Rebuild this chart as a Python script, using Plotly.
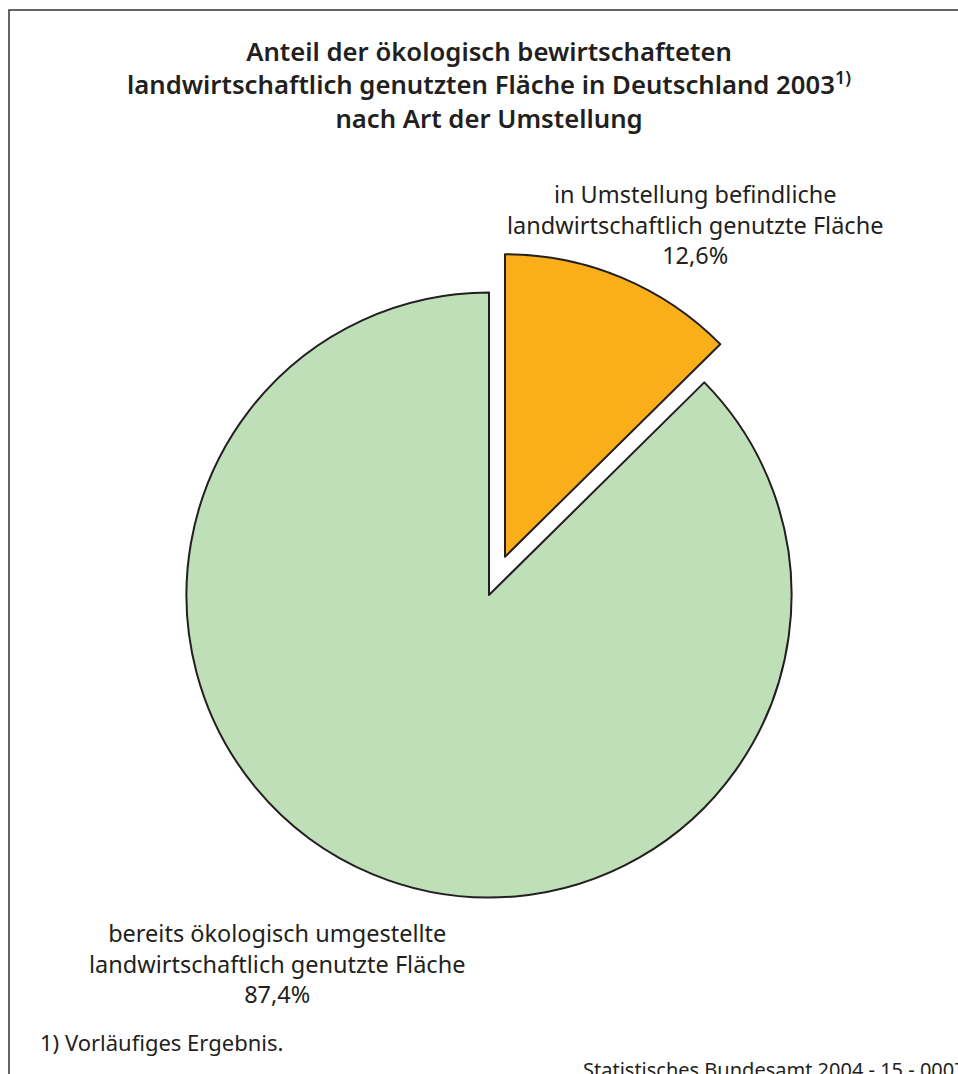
import plotly.graph_objects as go

# --- data ---------------------------------------------------------------
categories = [
    "in Umstellung befindliche landwirtschaftlich genutzte Fläche",
    "bereits ökologisch umgestellte landwirtschaftlich genutzte Fläche",
]
label_lines = [
    ["in Umstellung befindliche", "landwirtschaftlich genutzte Fläche"],
    ["bereits ökologisch umgestellte", "landwirtschaftlich genutzte Fläche"],
]
shares = [12.6, 87.4]
slice_colors = ["#F9AE1A", "#BEDFB8"]
slice_pull = [0.137, 0.0]

title_lines = [
    "Anteil der ökologisch bewirtschafteten",
    "landwirtschaftlich genutzten Fläche in Deutschland 2003<sup>1)</sup>",
    "nach Art der Umstellung",
]
footnote = "1) Vorläufiges Ergebnis."
source = "Statistisches Bundesamt 2004 - 15 - 0007"

# --- page geometry --------------------------------------------------------
W, H = 958, 1074
INK = "#231f20"
FONT = "Noto Sans"


def fx(px):
    return px / W


def fy(py):
    return 1 - py / H


def pct(v):
    return f"{v:.1f}".replace(".", ",") + "%"


# square box around the pie (includes room for the pulled slice)
cx, cy, half = 489, 595, 344
fig = go.Figure(
    go.Pie(
        labels=categories,
        values=shares,
        sort=False,
        direction="clockwise",
        rotation=0,
        pull=slice_pull,
        marker=dict(colors=slice_colors, line=dict(color=INK, width=2)),
        textinfo="none",
        hoverinfo="label+percent",
        showlegend=False,
        domain=dict(x=[fx(cx - half), fx(cx + half)], y=[fy(cy + half), fy(cy - half)]),
    )
)

annotations = []
# title
annotations.append(dict(
    text="<br>".join(title_lines), x=fx(489), y=fy(85), xref="paper", yref="paper",
    xanchor="center", yanchor="middle", showarrow=False, align="center",
    font=dict(family=FONT, size=25.7, color=INK, weight=600),
))
# slice labels
label_pos = [(695, 225), (277, 963)]
for lines, v, (lx, ly) in zip(label_lines, shares, label_pos):
    annotations.append(dict(
        text="<br>".join(lines + [pct(v)]), x=fx(lx), y=fy(ly), xref="paper", yref="paper",
        xanchor="center", yanchor="middle", showarrow=False, align="center",
        font=dict(family=FONT, size=23.5, color=INK),
    ))
# footnote and source
annotations.append(dict(
    text=footnote, x=fx(38), y=fy(1042), xref="paper", yref="paper",
    xanchor="left", yanchor="middle", showarrow=False,
    font=dict(family=FONT, size=22, color=INK),
))
annotations.append(dict(
    text=source, x=fx(581), y=fy(1069), xref="paper", yref="paper",
    xanchor="left", yanchor="middle", showarrow=False,
    font=dict(family=FONT, size=20, color=INK),
))

fig.update_layout(
    width=W, height=H,
    margin=dict(l=0, r=0, t=0, b=0),
    paper_bgcolor="white", plot_bgcolor="white",
    annotations=annotations,
    shapes=[dict(
        type="rect", xref="paper", yref="paper",
        x0=fx(9), y0=fy(10), x1=fx(W + 40), y1=fy(H + 40),
        line=dict(color="#333333", width=1.5), fillcolor="rgba(0,0,0,0)", layer="below",
    )],
)

fig.write_html("out.html")
